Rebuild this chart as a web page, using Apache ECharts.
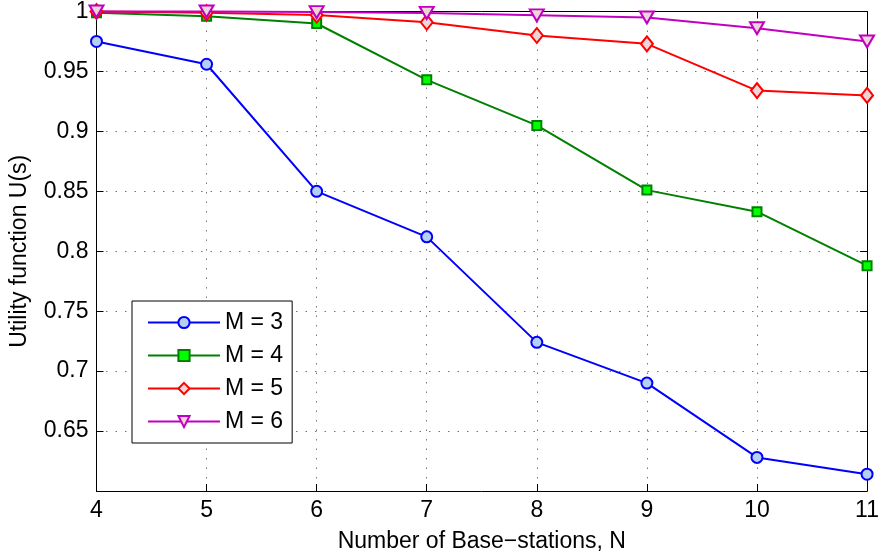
<!DOCTYPE html>
<html>
<head>
<meta charset="utf-8">
<script src="https://cdn.jsdelivr.net/npm/echarts@6/dist/echarts.min.js"></script>
<style>
  html, body { margin: 0; padding: 0; background: #fff; }
  #chart { width: 882px; height: 558px; }
</style>
</head>
<body>
<div id="chart"></div>
<script>
// Number of base-stations N on the horizontal axis
const baseStations = [4, 5, 6, 7, 8, 9, 10, 11];

// Utility U(s) for each number of channels M
const utilM3 = [0.975, 0.956, 0.850, 0.812, 0.724, 0.690, 0.628, 0.614];
const utilM4 = [0.999, 0.996, 0.990, 0.943, 0.905, 0.851, 0.833, 0.788];
const utilM5 = [1.000, 0.999, 0.997, 0.991, 0.980, 0.973, 0.934, 0.930];
const utilM6 = [1.000, 1.000, 0.9995, 0.9988, 0.9968, 0.995, 0.986, 0.975];

const seriesNames = ['M = 3', 'M = 4', 'M = 5', 'M = 6'];

const FONT = '"Liberation Sans", Arial, Helvetica, sans-serif';
const FONT_SIZE = 23;
const TRI_DOWN = 'path://M0,0 L14,0 L7,12 Z';

function pairs(values) {
  return baseStations.map((n, i) => [n, values[i]]);
}

function makeSeries(name, values, edge, fill, symbol, size) {
  return {
    name: name,
    type: 'line',
    data: pairs(values),
    symbol: symbol,
    symbolSize: size,
    showAllSymbol: true,
    clip: false,
    lineStyle: { color: edge, width: 2 },
    itemStyle: { color: fill, borderColor: edge, borderWidth: 2 },
    emphasis: { disabled: true },
    animation: false
  };
}

const dotted = { color: '#777', width: 1, type: [1.5, 8] };
const axisLineStyle = { lineStyle: { color: '#000', width: 1 } };
const innerTick = { inside: true, length: 7, lineStyle: { color: '#000' } };

const chart = echarts.init(document.getElementById('chart'), null, { renderer: 'canvas' });

chart.setOption({
  backgroundColor: '#fff',
  animation: false,
  grid: { left: 96.5, right: 11.5, top: 11, bottom: 67, containLabel: false },
  xAxis: [
    {
      type: 'value',
      min: 4, max: 11, interval: 1,
      position: 'bottom',
      name: 'Number of Base\u2212stations, N',
      nameLocation: 'middle',
      nameGap: 39,
      nameTextStyle: { fontFamily: FONT, fontSize: FONT_SIZE, color: '#000' },
      axisLine: axisLineStyle,
      axisTick: innerTick,
      axisLabel: { fontFamily: FONT, fontSize: FONT_SIZE, color: '#000', margin: 8 },
      splitLine: { show: true, lineStyle: dotted }
    },
    {
      type: 'value',
      min: 4, max: 11, interval: 1,
      position: 'top',
      axisLine: axisLineStyle,
      axisTick: innerTick,
      axisLabel: { show: false },
      splitLine: { show: false }
    }
  ],
  yAxis: [
    {
      type: 'value',
      min: 0.6, max: 1, interval: 0.05,
      position: 'left',
      name: 'Utility function U(s)',
      nameLocation: 'middle',
      nameGap: 65,
      nameTextStyle: { fontFamily: FONT, fontSize: FONT_SIZE, color: '#000' },
      axisLine: axisLineStyle,
      axisTick: innerTick,
      axisLabel: {
        fontFamily: FONT, fontSize: FONT_SIZE, color: '#000', margin: 8,
        formatter: v => (v < 0.625 ? '' : String(+v.toFixed(2)))
      },
      splitLine: { show: true, lineStyle: dotted }
    },
    {
      type: 'value',
      min: 0.6, max: 1, interval: 0.05,
      position: 'right',
      axisLine: axisLineStyle,
      axisTick: innerTick,
      axisLabel: { show: false },
      splitLine: { show: false }
    }
  ],
  legend: {
    orient: 'vertical',
    left: 132,
    top: 301,
    data: seriesNames,
    itemWidth: 72,
    itemHeight: 14,
    itemGap: 10,
    padding: [10, 9, 10, 15],
    backgroundColor: '#fff',
    borderColor: '#000',
    borderWidth: 1,
    borderRadius: 0,
    selectedMode: false,
    textStyle: { fontFamily: FONT, fontSize: FONT_SIZE, color: '#000', lineHeight: 23 }
  },
  series: [
    makeSeries(seriesNames[0], utilM3, '#0000ff', '#b8d0f0', 'circle', 11),
    makeSeries(seriesNames[1], utilM4, '#008000', '#00ff00', 'rect', 9),
    makeSeries(seriesNames[2], utilM5, '#ff0000', '#ecd6d8', 'diamond', [12, 15]),
    makeSeries(seriesNames[3], utilM6, '#c000c0', '#ecd6d8', TRI_DOWN, [14, 12])
  ]
});
</script>
</body>
</html>
